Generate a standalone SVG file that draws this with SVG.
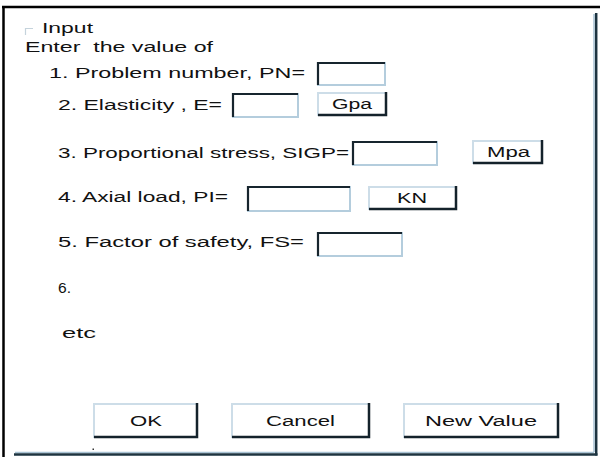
<svg xmlns="http://www.w3.org/2000/svg" width="600" height="457" viewBox="0 0 600 457">
<style>
text{font-family:"Liberation Sans",Arial,sans-serif;font-size:14px;fill:#111}
.edit{fill:#fff;stroke:#b4cddd;stroke-width:2}
.sunk{fill:none;stroke:#17252e;stroke-width:2.2}
.btn{fill:#fff;stroke:#cddde8;stroke-width:2}
.rais{fill:none;stroke:#14222b;stroke-width:2.5}
</style>
<rect width="600" height="457" fill="#fff"/>
<g id="frame">
<line x1="2" y1="7" x2="600" y2="7" stroke="#000" stroke-width="2.5"/>
<line x1="3.5" y1="6" x2="3.5" y2="457" stroke="#000" stroke-width="2.5"/>
<line x1="594" y1="14" x2="594" y2="452" stroke="#a9c3d4" stroke-width="1.5"/>
<line x1="15" y1="452.5" x2="594" y2="452.5" stroke="#a9c3d4" stroke-width="1.5"/>
<line x1="596.2" y1="13" x2="596.2" y2="455.5" stroke="#1d3440" stroke-width="2.5"/>
<line x1="14" y1="454.5" x2="597.5" y2="454.5" stroke="#1d3440" stroke-width="2.5"/>
</g>
<g id="group-input">
<polyline points="25.5,35 25.5,28.5 33,28.5" fill="none" stroke="#c5d3dc" stroke-width="1.2"/>
<text x="42" y="33" textLength="51" lengthAdjust="spacingAndGlyphs">Input</text>
</g>
<g id="intro"><text x="25" y="52" textLength="188" lengthAdjust="spacingAndGlyphs" xml:space="preserve">Enter  the value of</text></g>
<g id="row1">
<text x="49" y="78" textLength="256" lengthAdjust="spacingAndGlyphs">1. Problem number, PN=</text>
<rect class="edit" x="318" y="63" width="67" height="22"/>
<polyline class="sunk" points="318,85 318,63 385,63"/>
</g>
<g id="row2">
<text x="58" y="110" textLength="164" lengthAdjust="spacingAndGlyphs">2. Elasticity , E=</text>
<rect class="edit" x="233" y="94" width="65" height="23"/>
<polyline class="sunk" points="233,117 233,94 298,94"/>
<rect class="btn" x="318" y="93" width="68" height="22"/>
<polyline class="rais" points="386,92 386,115 318,115"/>
<text x="332" y="109" textLength="40" lengthAdjust="spacingAndGlyphs">Gpa</text>
</g>
<g id="row3">
<text x="58" y="158" textLength="291" lengthAdjust="spacingAndGlyphs">3. Proportional stress, SIGP=</text>
<rect class="edit" x="353" y="142" width="84" height="23"/>
<polyline class="sunk" points="353,165 353,142 437,142"/>
<rect class="btn" x="473" y="141" width="69" height="22"/>
<polyline class="rais" points="542,140 542,163 473,163"/>
<text x="487" y="157" textLength="43" lengthAdjust="spacingAndGlyphs">Mpa</text>
</g>
<g id="row4">
<text x="58" y="202" textLength="170" lengthAdjust="spacingAndGlyphs">4. Axial load, PI=</text>
<rect class="edit" x="248" y="187" width="102" height="24"/>
<polyline class="sunk" points="248,211 248,187 350,187"/>
<rect class="btn" x="369" y="187" width="87" height="22"/>
<polyline class="rais" points="456,186 456,209 369,209"/>
<text x="397" y="203" textLength="30" lengthAdjust="spacingAndGlyphs">KN</text>
</g>
<g id="row5">
<text x="58" y="247" textLength="246" lengthAdjust="spacingAndGlyphs">5. Factor of safety, FS=</text>
<rect class="edit" x="318" y="233" width="84" height="23"/>
<polyline class="sunk" points="318,256 318,233 402,233"/>
</g>
<g id="row6"><text x="58" y="293" textLength="13" lengthAdjust="spacingAndGlyphs">6.</text></g>
<g id="etc"><text x="62" y="338" textLength="34" lengthAdjust="spacingAndGlyphs">etc</text></g>
<g id="btn-ok">
<rect class="btn" x="94" y="404" width="103" height="33"/>
<polyline class="rais" points="197,403 197,437 94,437"/>
<text x="130" y="426" textLength="32" lengthAdjust="spacingAndGlyphs">OK</text>
</g>
<g id="btn-cancel">
<rect class="btn" x="232" y="404" width="137" height="33"/>
<polyline class="rais" points="369,403 369,437 232,437"/>
<text x="266" y="426" textLength="69" lengthAdjust="spacingAndGlyphs">Cancel</text>
</g>
<g id="btn-newvalue">
<rect class="btn" x="404" y="404" width="154" height="33"/>
<polyline class="rais" points="558,403 558,437 404,437"/>
<text x="425" y="426" textLength="112" lengthAdjust="spacingAndGlyphs">New Value</text>
</g>
<rect x="92.5" y="448.5" width="1.5" height="1.5" fill="#333"/>
</svg>
